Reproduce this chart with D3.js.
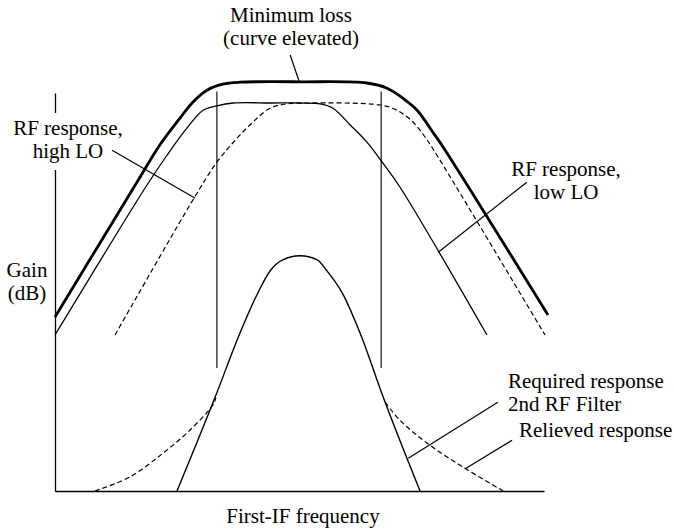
<!DOCTYPE html>
<html><head><meta charset="utf-8">
<script src="https://cdn.jsdelivr.net/npm/d3@7"></script>
<style>
body{margin:0;background:#fff}
svg{display:block}
</style>
</head><body>
<svg id="chart" width="674" height="529"></svg>
<script>
// ---- data (frequency units 0..100, gain units 0..100) ----
const minimumLoss = [[0,43.5],[17.3,78.5],[21.3,86.5],[25.4,93.2],[28,97.2],[30.9,100.2],[34.1,101.7],[37.6,102.2],[50,102.3],[63.4,102],[67.5,100.7],[70.7,98.2],[73.6,95.2],[76.8,89.7],[79.3,85.2],[100.2,44]];
const rfHighLO = [[0,39],[18.7,76.5],[22.8,84],[26.8,90.7],[30.1,95.2],[32.9,96.3],[36.2,97],[43.9,97],[49.8,97],[53.9,96.8],[56.5,95.7],[60,91.5],[63.4,87.2],[66.5,82.2],[70.1,76],[87.8,39]];
const rfLowLO = [[12.2,39],[28,72.7],[32.9,82.2],[37,88.2],[40.2,92.2],[43.7,95.7],[47.2,96.8],[51.2,97],[66.1,96.5],[69.5,95.2],[72.8,92.2],[75.2,88.5],[77,85.2],[99.6,39]];
const requiredResponse = [[24.8,0],[32.5,23.3],[37.6,39.5],[41.3,49.7],[43.7,55],[46.3,57.8],[49.8,58.8],[53.3,57.8],[55.3,55],[58.3,49.7],[62,39.5],[66.7,23.5],[74.2,0]];
const relievedLeft = [[8.1,0],[15.2,3.5],[22,9.5],[27.4,15.2],[32.1,21.5],[32.7,23.3]];
const relievedRight = [[67.1,22.2],[70.1,17.7],[75.6,12],[82.9,6],[91.1,0]];
const filterEdges = [32.9, 66.3];          // vertical band edges (frequency)
const filterEdgeSpan = [30.75, 99.9];      // gain span of the band edges
const xAxisEnd = 99.4, yAxisEnd = 99.5;
// leader lines: [from, to] in data units
const leaders = [
  [[47.8,109],[49.6,102.5]],
  [[11.6,85.2],[28.5,73.2]],
  [[95.9,77.2],[77.9,59.7]],
  [[90.0,22.2],[71.8,8.2]],
  [[92.9,12.7],[83.3,5.5]]
];
const labels = [
  {lines:["Minimum loss","(curve elevated)"], x:291, y:22, anchor:"middle"},
  {lines:["RF response,","high LO"], x:68, y:135, anchor:"middle"},
  {lines:["RF response,","low LO"], x:566, y:176, anchor:"middle"},
  {lines:["Gain","(dB)"], x:27, y:277, anchor:"middle"},
  {lines:["Required response","2nd RF Filter"], x:508, y:388, anchor:"start"},
  {lines:["Relieved response"], x:519, y:437, anchor:"start"},
  {lines:["First-IF frequency"], x:303, y:523, anchor:"middle"}
];

// ---- drawing ----
const svg = d3.select("#chart");
const x = d3.scaleLinear().domain([0,100]).range([55,547]);
const y = d3.scaleLinear().domain([0,100]).range([491,91]);
const line = d3.line().x(d=>x(d[0])).y(d=>y(d[1])).curve(d3.curveCatmullRom.alpha(0.5));
const bell = d3.line().x(d=>x(d[0])).y(d=>y(d[1])).curve(d3.curveMonotoneX);
const straight = d3.line().x(d=>x(d[0])).y(d=>y(d[1]));

// axes
const xa = d3.scaleLinear().domain([0,xAxisEnd]).range([x(0),x(xAxisEnd)]);
const ya = d3.scaleLinear().domain([0,yAxisEnd]).range([y(0),y(yAxisEnd)]);
svg.append("g").attr("transform",`translate(0,${y(0)})`)
  .call(d3.axisBottom(xa).tickValues([]).tickSizeOuter(0))
  .select(".domain").attr("stroke","#000").attr("stroke-width",1.3);
svg.append("g").attr("transform",`translate(${x(0)},0)`)
  .call(d3.axisLeft(ya).tickValues([]).tickSizeOuter(0))
  .select(".domain").attr("stroke","#000").attr("stroke-width",1.3);
// break in the y axis behind the left label
svg.append("rect").attr("x",x(0)-5).attr("y",113).attr("width",10).attr("height",57).attr("fill","#fff");

// filter band edges
svg.selectAll("line.edge").data(filterEdges).join("line").attr("class","edge")
  .attr("x1",d=>x(d)).attr("x2",d=>x(d))
  .attr("y1",y(filterEdgeSpan[0])).attr("y2",y(filterEdgeSpan[1]))
  .attr("stroke","#333").attr("stroke-width",1.4);

const curves = [
  {d:minimumLoss, w:2.8, dash:null, gen:line},
  {d:rfHighLO, w:1.3, dash:null, gen:line},
  {d:rfLowLO, w:1.2, dash:"5,3", gen:line},
  {d:requiredResponse, w:1.4, dash:null, gen:bell},
  {d:relievedLeft, w:1.2, dash:"5,3", gen:line},
  {d:relievedRight, w:1.2, dash:"5,3", gen:line}
];
svg.selectAll("path.curve").data(curves).join("path").attr("class","curve")
  .attr("d",c=>c.gen(c.d)).attr("fill","none").attr("stroke","#000")
  .attr("stroke-width",c=>c.w).attr("stroke-dasharray",c=>c.dash);

svg.selectAll("path.leader").data(leaders).join("path").attr("class","leader")
  .attr("d",d=>straight(d)).attr("fill","none").attr("stroke","#000").attr("stroke-width",1.2);

labels.forEach(l=>{
  const t = svg.append("text").attr("text-anchor",l.anchor)
    .attr("font-family","'Liberation Serif'").attr("font-size",21).attr("fill","#000");
  l.lines.forEach((s,i)=>{
    t.append("tspan").attr("x",l.x).attr("y",l.y+i*23).text(s);
  });
});
</script>
</body></html>
